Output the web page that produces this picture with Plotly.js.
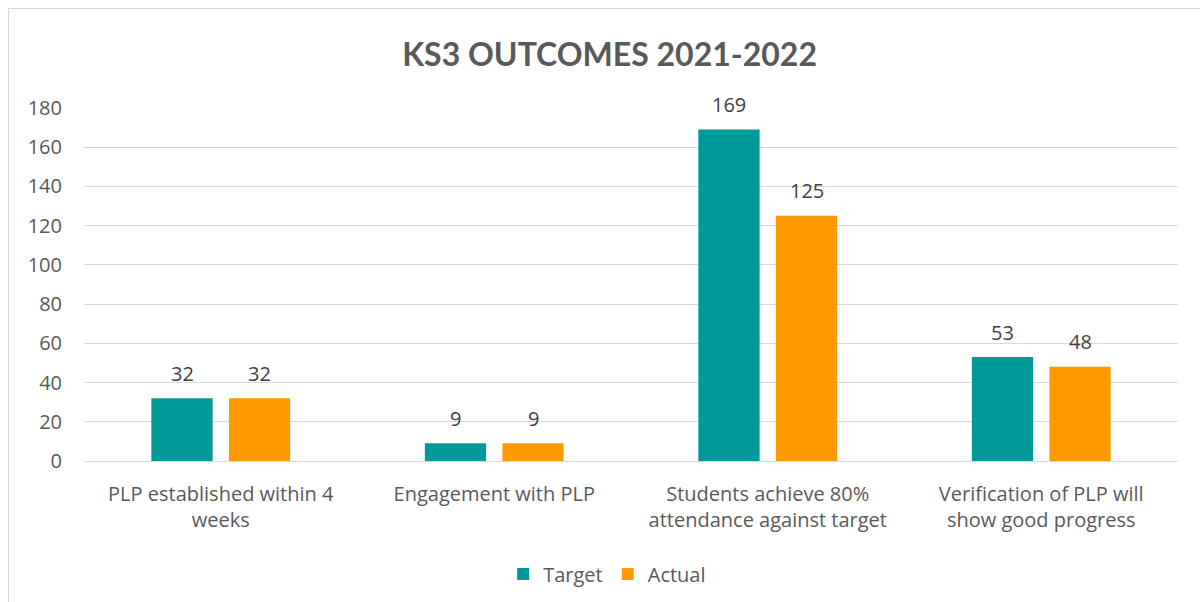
<!DOCTYPE html>
<html><head><meta charset="utf-8">
<script src="https://cdn.plot.ly/plotly-3.0.1.min.js"></script>
<style>
html,body{margin:0;padding:0;background:#fff;}
#frame{position:absolute;left:8px;top:8px;width:1250px;height:700px;border-left:1px solid #d9d9d9;border-top:1px solid #d9d9d9;}
#chart{position:absolute;left:0;top:0;width:1200px;height:602px;}
</style></head>
<body>
<div id="frame"></div>
<div id="chart"></div>
<script>
const categories = ["PLP established within 4<br>weeks", "Engagement with PLP", "Students achieve 80%<br>attendance against target", "Verification of PLP will<br>show good progress"];
const targetValues = [32, 9, 169, 53];
const actualValues = [32, 9, 125, 48];
const yTicks = [0, 20, 40, 60, 80, 100, 120, 140, 160, 180];

const fontFam = "Open Sans, Lato, sans-serif";
const traces = [
  {type:'bar', name:'Target', x:categories, y:targetValues, marker:{color:'#009999'}, hoverinfo:'none'},
  {type:'bar', name:'Actual', x:categories, y:actualValues, marker:{color:'#FF9900'}, hoverinfo:'none'}
];
const annotations = [];
function addLabels(vals, shift){
  vals.forEach((v,i)=>{
    annotations.push({x:categories[i], y:v, xref:'x', yref:'y', text:String(v), showarrow:false,
      xshift:shift, yshift:25, yanchor:'middle', xanchor:'center',
      font:{size:20, color:'#404040', family:fontFam}});
  });
}
addLabels(targetValues, -38.75);
addLabels(actualValues, 38.75);

const layout = {
  width:1200, height:602,
  paper_bgcolor:'rgba(0,0,0,0)', plot_bgcolor:'rgba(0,0,0,0)',
  margin:{l:84, r:22, t:108, b:141},
  title:{text:'<b>KS3 OUTCOMES 2021-2022</b>', x:0.508, xref:'container', xanchor:'center', y:0.909, yanchor:'middle',
         font:{size:32, color:'#595959', family:'Lato, Open Sans, sans-serif'}},
  barmode:'group', bargap:0.433, bargroupgap:0.21,
  xaxis:{tickfont:{size:20, color:'#595959', family:fontFam}, showline:false, ticks:'', showgrid:false, zeroline:false,
         automargin:false, ticklabelstandoff:19},
  yaxis:{range:[0,180], tickvals:yTicks, ticktext:yTicks.map(String), showgrid:true, gridcolor:'#d9d9d9', gridwidth:1,
         zeroline:true, zerolinecolor:'#d9d9d9', zerolinewidth:1, showline:false, ticks:'', ticklen:0,
         tickfont:{size:20, color:'#595959', family:fontFam}, automargin:false, fixedrange:true, ticklabelstandoff:21},
  annotations: annotations,
  showlegend:true,
  legend:{orientation:'h', x:0.506, xref:'container', xanchor:'center', y:0.0465, yref:'container', yanchor:'middle',
          font:{size:20, color:'#595959', family:fontFam}, itemwidth:30, traceorder:'normal'},
  font:{family:fontFam}
};
Plotly.newPlot('chart', traces, layout, {displayModeBar:false, staticPlot:true});
</script>
</body></html>
